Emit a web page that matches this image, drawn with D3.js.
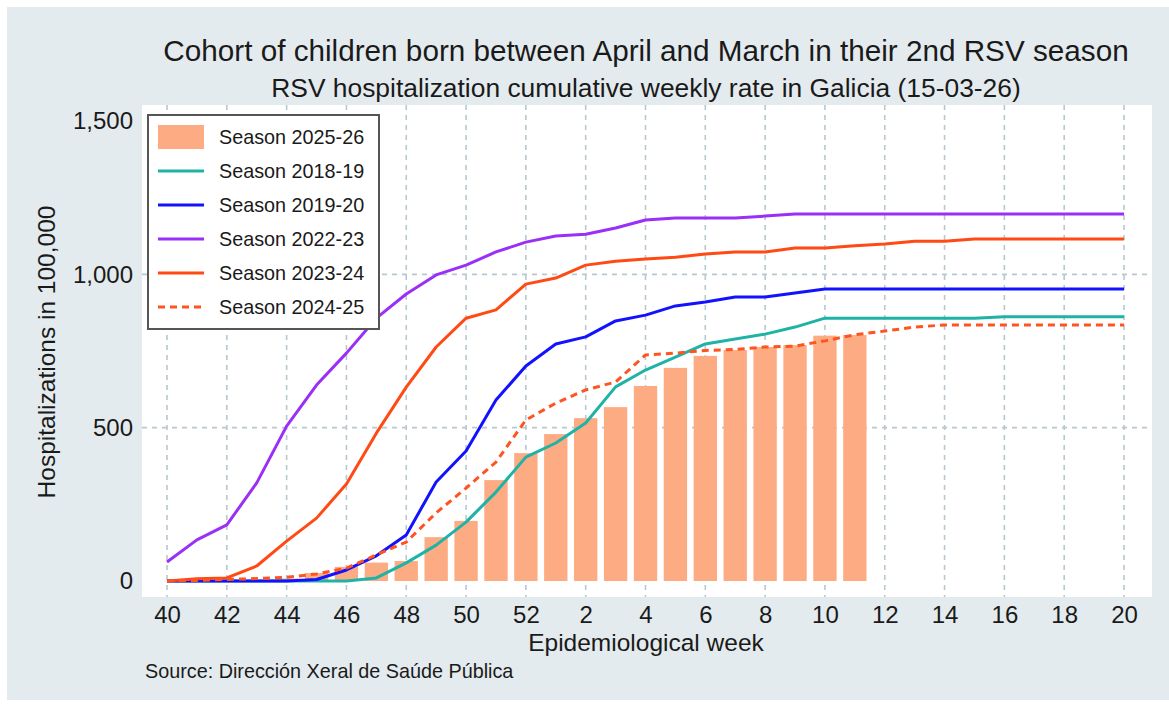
<!DOCTYPE html>
<html>
<head>
<meta charset="utf-8">
<script src="https://cdn.jsdelivr.net/npm/d3@7"></script>
<style>
  html, body { margin: 0; padding: 0; background: #fff; }
  svg text { font-family: "Liberation Sans", Arial, sans-serif; fill: #1a1a1a; }
</style>
</head>
<body>
<script>
// epidemiological weeks 40..52 then 1..20
const weeks = ["40","41","42","43","44","45","46","47","48","49","50","51","52",
               "1","2","3","4","5","6","7","8","9","10","11","12","13","14","15","16","17","18","19","20"];
const tickWeeks = ["40","42","44","46","48","50","52","2","4","6","8","10","12","14","16","18","20"];
const yTicks = [0, 500, 1000, 1500];

// cumulative rate per 100,000
const season2526 = [null,null,null,null,8,26,46,60,65,143,196,329,417,
                    479,531,567,636,695,734,753,763,769,800,802,null,null,null,null,null,null,null,null,null];
const season1819 = [0,0,0,0,0,0,0,10,59,117,192,290,404,
                    450,515,633,688,730,773,789,805,828,857,857,857,857,857,857,862,862,862,862,862];
const season1920 = [0,0,0,0,0,5,36,82,150,323,424,590,701,
                    773,796,848,867,897,910,926,926,939,952,952,952,952,952,952,952,952,952,952,952];
const season2223 = [62,134,183,320,505,639,743,857,936,998,1030,1073,1105,
                    1125,1131,1151,1177,1184,1184,1184,1190,1197,1197,1197,1197,1197,1197,1197,1197,1197,1197,1197,1197];
const season2324 = [0,7,10,49,130,205,316,482,632,763,857,884,968,
                    988,1030,1043,1050,1056,1066,1073,1073,1086,1086,1093,1099,1108,1108,1115,1115,1115,1115,1115,1115];
const season2425 = [0,2,5,8,12,23,42,85,127,222,303,388,525,
                    580,623,649,737,743,752,755,763,766,783,803,815,828,835,835,835,835,835,835,835];

const lineSeries = [
  { name: "Season 2018-19", values: season1819, color: "#1fb3a7", dash: null },
  { name: "Season 2019-20", values: season1920, color: "#1212ff", dash: null },
  { name: "Season 2022-23", values: season2223, color: "#9a2ff8", dash: null },
  { name: "Season 2023-24", values: season2324, color: "#ff4a14", dash: null },
  { name: "Season 2024-25", values: season2425, color: "#ff5320", dash: "7,5" }
];
const barColor = "#fdab82";

const W = 1169, H = 704;
const plot = { left: 142, right: 1152, top: 105, bottom: 597 };

const svg = d3.select("body").append("svg")
  .attr("width", W)
  .attr("height", H);

svg.append("rect").attr("x", 7).attr("y", 7).attr("width", W - 7).attr("height", H - 11)
  .attr("fill", "#e4ebee");
svg.append("rect")
  .attr("x", plot.left).attr("y", plot.top)
  .attr("width", plot.right - plot.left).attr("height", plot.bottom - plot.top)
  .attr("fill", "#fff");

const x = d3.scalePoint().domain(weeks).range([167, 1124]);
const y = d3.scaleLinear().domain([0, 1500]).range([581, 121]);

// grid
const grid = svg.append("g").attr("stroke", "#b7c8ce").attr("stroke-width", 1.6)
  .attr("stroke-dasharray", "5,5");
grid.selectAll(".vg").data(tickWeeks).enter().append("line")
  .attr("x1", d => x(d)).attr("x2", d => x(d))
  .attr("y1", plot.top).attr("y2", plot.bottom);
grid.selectAll(".hg").data([500, 1000]).enter().append("line")
  .attr("x1", plot.left).attr("x2", plot.right)
  .attr("y1", d => y(d)).attr("y2", d => y(d));

// bars
const bw = x.step() * 0.78;
svg.append("g").selectAll("rect")
  .data(weeks.map((w, i) => ({ w: w, v: season2526[i] })).filter(d => d.v != null))
  .enter().append("rect")
  .attr("x", d => x(d.w) - bw / 2)
  .attr("y", d => y(d.v))
  .attr("width", bw)
  .attr("height", d => y(0) - y(d.v))
  .attr("fill", barColor);

// lines
const line = d3.line().x((d, i) => x(weeks[i])).y(d => y(d));
lineSeries.forEach(s => {
  svg.append("path")
    .attr("d", line(s.values))
    .attr("fill", "none")
    .attr("stroke", s.color)
    .attr("stroke-width", 3)
    .attr("stroke-linejoin", "round")
    .attr("stroke-dasharray", s.dash);
});

// axes
const xAxis = svg.append("g")
  .attr("transform", "translate(0," + plot.bottom + ")")
  .call(d3.axisBottom(x).tickValues(tickWeeks).tickSize(0).tickPadding(9));
xAxis.select(".domain").remove();
xAxis.selectAll("text").style("font-size", "24px").attr("fill", "#1a1a1a");

const yAxis = svg.append("g")
  .attr("transform", "translate(" + plot.left + ",0)")
  .call(d3.axisLeft(y).tickValues(yTicks).tickFormat(d3.format(",")).tickSize(0).tickPadding(9));
yAxis.select(".domain").remove();
yAxis.selectAll("text").style("font-size", "24px").attr("fill", "#1a1a1a");

// titles
svg.append("text").attr("x", 646).attr("y", 61).attr("text-anchor", "middle")
  .style("font-size", "29.7px").text("Cohort of children born between April and March in their 2nd RSV season");
svg.append("text").attr("x", 646).attr("y", 97).attr("text-anchor", "middle")
  .style("font-size", "26.4px").text("RSV hospitalization cumulative weekly rate in Galicia (15-03-26)");
svg.append("text").attr("x", 646).attr("y", 651).attr("text-anchor", "middle")
  .style("font-size", "24.5px").text("Epidemiological week");
svg.append("text").attr("transform", "translate(55,352) rotate(-90)").attr("text-anchor", "middle")
  .style("font-size", "24.5px").text("Hospitalizations in 100,000");
svg.append("text").attr("x", 145).attr("y", 678)
  .style("font-size", "19.8px").text("Source: Dirección Xeral de Saúde Pública");

// legend
const legend = svg.append("g");
legend.append("rect").attr("x", 148).attr("y", 115).attr("width", 231).attr("height", 214)
  .attr("fill", "#fff").attr("stroke", "#555").attr("stroke-width", 2);
const legendItems = [{ name: "Season 2025-26", bar: true }].concat(lineSeries);
legendItems.forEach((d, i) => {
  const cy = 137 + i * 34;
  if (d.bar) {
    legend.append("rect").attr("x", 158).attr("y", cy - 12).attr("width", 46).attr("height", 24)
      .attr("fill", barColor);
  } else {
    legend.append("line").attr("x1", 158).attr("x2", 204).attr("y1", cy).attr("y2", cy)
      .attr("stroke", d.color).attr("stroke-width", 3).attr("stroke-dasharray", d.dash);
  }
  legend.append("text").attr("x", 219).attr("y", cy).attr("dy", "0.35em")
    .style("font-size", "19.8px").text(d.name);
});
</script>
</body>
</html>
